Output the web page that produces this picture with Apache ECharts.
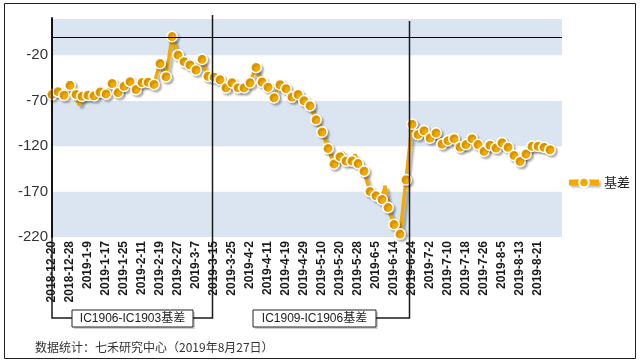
<!DOCTYPE html>
<html>
<head>
<meta charset="utf-8">
<script src="https://cdn.jsdelivr.net/npm/echarts@6/dist/echarts.min.js"></script>
<style>
html,body{margin:0;padding:0;background:#fff;}
#c{width:640px;height:363px;}
</style>
</head>
<body>
<div id="c"></div>
<script>
// Trading dates (categories)
var dates = [
'2018-12-20','2018-12-21','2018-12-24','2018-12-25','2018-12-26','2018-12-27','2018-12-28',
'2019-1-2','2019-1-3','2019-1-4','2019-1-7','2019-1-8','2019-1-9','2019-1-10','2019-1-11','2019-1-14','2019-1-15','2019-1-16','2019-1-17','2019-1-18','2019-1-21','2019-1-22','2019-1-23','2019-1-24','2019-1-25','2019-1-28','2019-1-29','2019-1-30','2019-1-31',
'2019-2-1','2019-2-11','2019-2-12','2019-2-13','2019-2-14','2019-2-15','2019-2-18','2019-2-19','2019-2-20','2019-2-21','2019-2-22','2019-2-25','2019-2-26','2019-2-27','2019-2-28',
'2019-3-1','2019-3-4','2019-3-5','2019-3-6','2019-3-7','2019-3-8','2019-3-11','2019-3-12','2019-3-13','2019-3-14','2019-3-15','2019-3-18','2019-3-19','2019-3-20','2019-3-21','2019-3-22','2019-3-25','2019-3-26','2019-3-27','2019-3-28','2019-3-29',
'2019-4-1','2019-4-2','2019-4-3','2019-4-4','2019-4-8','2019-4-9','2019-4-10','2019-4-11','2019-4-12','2019-4-15','2019-4-16','2019-4-17','2019-4-18','2019-4-19','2019-4-22','2019-4-23','2019-4-24','2019-4-25','2019-4-26','2019-4-29','2019-4-30',
'2019-5-6','2019-5-7','2019-5-8','2019-5-9','2019-5-10','2019-5-13','2019-5-14','2019-5-15','2019-5-16','2019-5-17','2019-5-20','2019-5-21','2019-5-22','2019-5-23','2019-5-24','2019-5-27','2019-5-28','2019-5-29','2019-5-30','2019-5-31',
'2019-6-3','2019-6-4','2019-6-5','2019-6-6','2019-6-10','2019-6-11','2019-6-12','2019-6-13','2019-6-14','2019-6-17','2019-6-18','2019-6-19','2019-6-20','2019-6-21','2019-6-24','2019-6-25','2019-6-26','2019-6-27','2019-6-28',
'2019-7-1','2019-7-2','2019-7-3','2019-7-4','2019-7-5','2019-7-8','2019-7-9','2019-7-10','2019-7-11','2019-7-12','2019-7-15','2019-7-16','2019-7-17','2019-7-18','2019-7-19','2019-7-22','2019-7-23','2019-7-24','2019-7-25','2019-7-26','2019-7-29','2019-7-30','2019-7-31',
'2019-8-1','2019-8-2','2019-8-5','2019-8-6','2019-8-7','2019-8-8','2019-8-9','2019-8-12','2019-8-13','2019-8-14','2019-8-15','2019-8-16','2019-8-19','2019-8-20','2019-8-21','2019-8-22','2019-8-23','2019-8-26','2019-8-27'
];
// empty trailing categories on the axis
var padCategories = ['', '', '', ''];

// Basis values (基差)
var basis = [
-63,-61,-60,-62,-64,-58,-53,-58,-63,-75,
-65,-64,-64,-63,-64.5,-62,-60.5,-62,-62.5,-57,
-51,-56,-61,-57,-54,-51,-49,-53,-57.6,-53,
-50,-50,-49.5,-51,-52,-40,-29,-37,-43.5,-22,
0.6,-10,-19.7,-24,-27,-29,-30.7,-34,-36.2,-30,
-24.4,-35,-43,-44,-44,-46,-47,-51,-55.7,-53,
-50.2,-53,-55.7,-56,-55.7,-49,-50.2,-41,-33.3,-42,
-49.3,-52,-55,-61,-66.7,-59,-52.4,-54,-56.7,-62,
-66,-64,-63.1,-67,-70,-73,-75.6,-83,-91,-98,
-104.5,-113,-122.5,-131,-139.5,-135,-131.6,-126.7,-136.4,-136,
-136.4,-129,-139.2,-143,-147.5,-159,-170,-172,-174.7,-177,
-178.7,-163.6,-187.6,-197,-206.3,-212,-216.8,-187,-157,-126,
-96,-102,-107.2,-105,-103,-107,-111,-108,-105.4,-111,
-117.6,-116,-113.9,-113,-111.7,-116,-120.9,-120,-118.3,-115,
-111.7,-115,-118.3,-122,-125.7,-122,-119,-121,-122,-115,
-116.3,-119,-121.3,-126,-130.2,-134,-136.8,-133,-128.6,-124,
-120.2,-120,-120.2,-121,-121.3,-122,-123.9
];

var seriesName = '基差';
var yMin = -220, yMax = 20, yStep = 50;
var bracket1 = {to: '2019-3-15', text: 'IC1906-IC1903基差'};
var bracket2 = {to: '2019-6-24', text: 'IC1909-IC1906基差'};
var sourceText = '数据统计：七禾研究中心（2019年8月27日）';

var ORANGE = '#F4A900';
var chart = echarts.init(document.getElementById('c'), null, {renderer: 'canvas'});
var font = '"Liberation Sans", Arial, "Noto Sans CJK SC", sans-serif';

var option = {
  animation: false,
  backgroundColor: '#fff',
  textStyle: {fontFamily: font},
  grid: {left: 52, right: 78, top: 19, bottom: 126, containLabel: false},
  legend: {
    data: [seriesName],
    left: 561, top: 171,
    itemWidth: 30, itemHeight: 12,
    itemGap: 6,
    lineStyle: {width: 6, shadowColor: 'rgba(0,0,0,0.25)', shadowBlur: 2, shadowOffsetX: 2, shadowOffsetY: 2},
    textStyle: {fontSize: 13, color: '#222', fontFamily: '"Noto Sans CJK SC", sans-serif'}
  },
  xAxis: {
    type: 'category',
    data: dates.concat(padCategories),
    boundaryGap: false,
    axisLine: {show: false, onZero: false},
    axisTick: {show: false},
    splitLine: {show: false},
    axisLabel: {
      interval: 5, rotate: 90, margin: 4,
      fontSize: 12, fontWeight: 'bold', color: '#1a1a1a', fontFamily: font
    }
  },
  yAxis: {
    type: 'value',
    min: yMin, max: yMax, interval: yStep,
    axisLine: {show: true, lineStyle: {color: '#000', width: 2}},
    axisTick: {show: false},
    splitLine: {show: false},
    splitArea: {show: true, areaStyle: {color: ['#DBE5F1', '#FFFFFF']}},
    axisLabel: {
      fontSize: 15, color: '#333', margin: 4, fontFamily: font,
      formatter: function (v) { return v > yMin + 4 * yStep ? '' : String(v); }
    }
  },
  series: [{
    name: seriesName,
    type: 'line',
    data: basis,
    showAllSymbol: true,
    symbol: function (v, p) { return p.dataIndex % 2 === 0 ? 'circle' : 'none'; },
    symbolSize: 10.5,
    lineStyle: {color: ORANGE, width: 3.5, shadowColor: 'rgba(0,0,0,0.28)', shadowBlur: 2, shadowOffsetX: 3, shadowOffsetY: 3},
    itemStyle: {color: ORANGE, borderColor: '#fff', borderWidth: 1.5, shadowColor: 'rgba(0,0,0,0.25)', shadowBlur: 2, shadowOffsetX: 2, shadowOffsetY: 2},
    markLine: {
      silent: true, symbol: 'none', animation: false,
      label: {show: false},
      lineStyle: {color: '#000', width: 1, type: 'solid'},
      data: [{yAxis: 0}]
    },
    z: 3
  }]
};
chart.setOption(option);

// annotation brackets tied to category positions
var x0 = chart.convertToPixel({xAxisIndex: 0}, dates[0]);
var x1 = chart.convertToPixel({xAxisIndex: 0}, bracket1.to);
var x2 = chart.convertToPixel({xAxisIndex: 0}, bracket2.to);
var yb = 318, boxTop = 310, boxH = 17;
var lineStyle = {stroke: '#1a1a1a', lineWidth: 1.5};
function box(left, right, text) {
  return [
    {type: 'rect', shape: {x: left + 2, y: boxTop + 2, width: right - left, height: boxH}, style: {fill: 'rgba(0,0,0,0.18)'}, silent: true},
    {type: 'rect', shape: {x: left, y: boxTop, width: right - left, height: boxH}, style: {fill: '#fff', stroke: '#222', lineWidth: 1}, silent: true},
    {type: 'text', x: (left + right) / 2, y: boxTop + boxH / 2, style: {text: text, fill: '#222', font: '12px "Liberation Sans", Arial, "Noto Sans CJK SC", sans-serif', align: 'center', verticalAlign: 'middle'}, silent: true}
  ];
}
var elements = [
  {type: 'rect', shape: {x: 4.5, y: 3.5, width: 631, height: 355}, style: {fill: 'none', stroke: '#222', lineWidth: 1}, silent: true, z: 100},
  {type: 'polyline', shape: {points: [[x0, 17], [x0, yb], [72, yb]]}, style: Object.assign({fill: null}, lineStyle), silent: true, z: 100},
  {type: 'polyline', shape: {points: [[193, yb], [x1 - 1.5, yb], [x1 - 1.5, 15]]}, style: Object.assign({fill: null}, lineStyle), silent: true, z: 100},
  {type: 'polyline', shape: {points: [[376, yb], [x2 - 2.5, yb], [x2 - 2.5, 21]]}, style: Object.assign({fill: null}, lineStyle), silent: true, z: 100},
  {type: 'text', x: 35, y: 347, style: {text: sourceText, fill: '#333', font: '12px "Noto Sans CJK SC", sans-serif', verticalAlign: 'middle'}, silent: true, z: 100}
].concat(box(72, 193, bracket1.text).map(function (e) { e.z = 101; return e; }))
 .concat(box(253, 376, bracket2.text).map(function (e) { e.z = 101; return e; }));
chart.setOption({graphic: {elements: elements}});
</script>
</body>
</html>
